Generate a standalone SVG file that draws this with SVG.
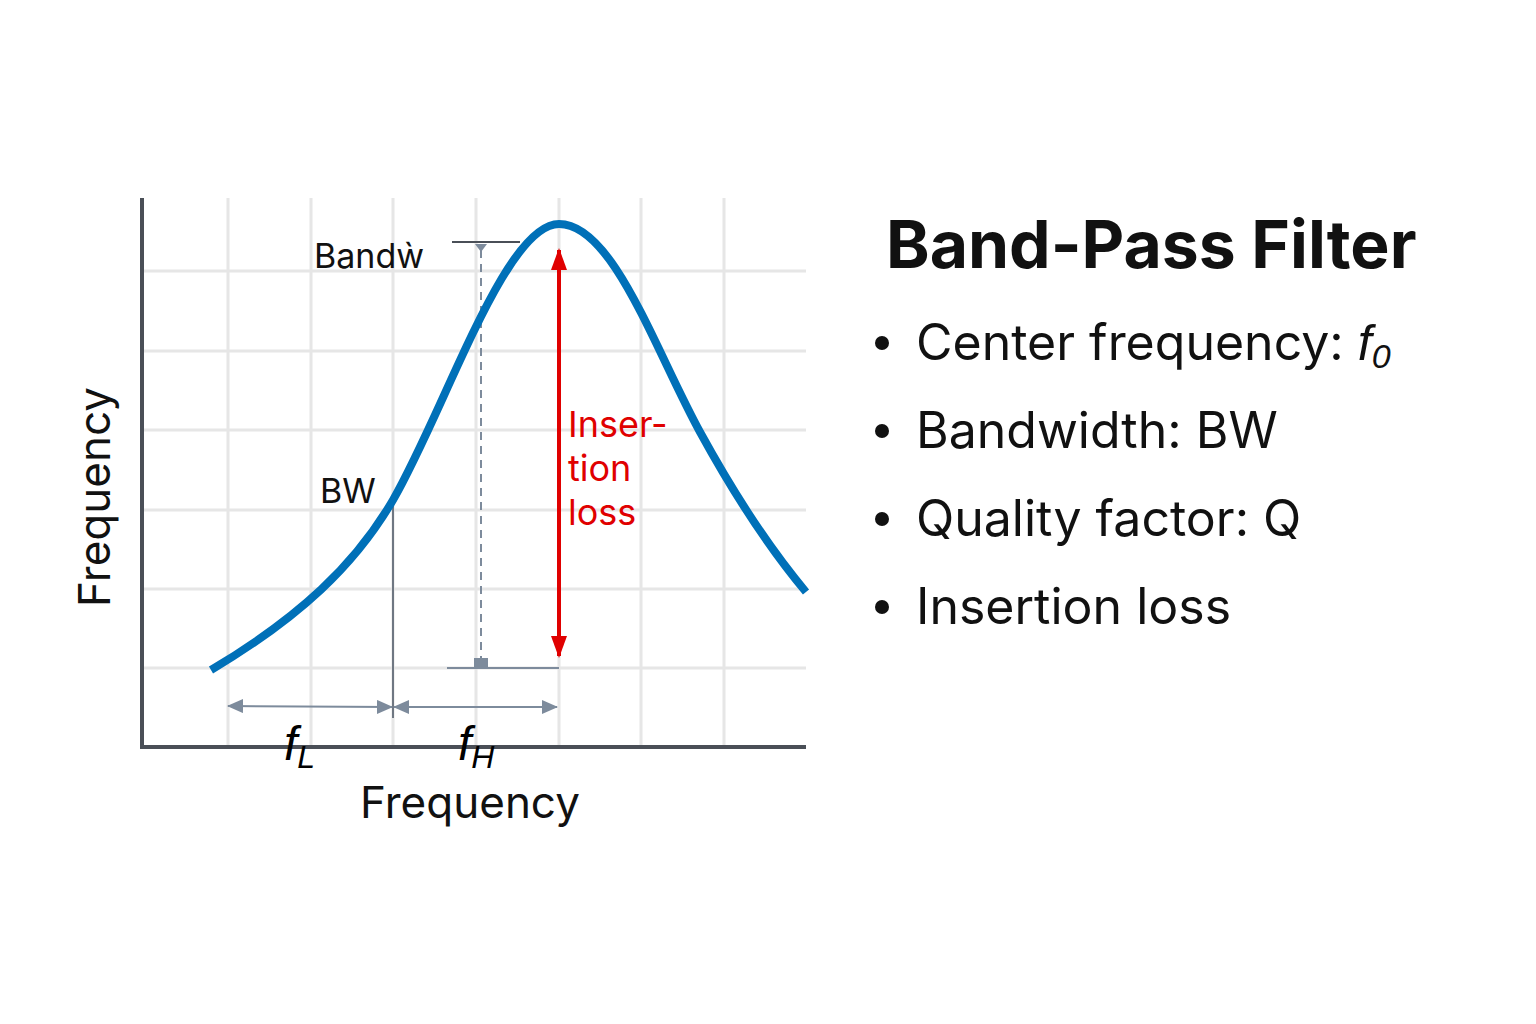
<svg xmlns="http://www.w3.org/2000/svg" width="1536" height="1024" viewBox="0 0 1536 1024">
<style>
.g{stroke:#e6e6e6;stroke-width:3}
.t{font-family:"Inter","Liberation Sans",sans-serif}
.dim{stroke:#7d8b9c;stroke-width:2;fill:none}
</style>
<defs>
<marker id="ga" markerWidth="16" markerHeight="14" refX="15" refY="7" orient="auto-start-reverse" markerUnits="userSpaceOnUse"><path d="M0,0L16,7L0,14z" fill="#7d8b9c"/></marker>
<marker id="ra" markerWidth="24" markerHeight="24" refX="20" refY="8" orient="auto-start-reverse" markerUnits="userSpaceOnUse"><path d="M0,0L22,8L0,16z" fill="#e00000"/></marker>
</defs>
<rect width="1536" height="1024" fill="#fff"/>
<g id="grid">
<line class="g" x1="228" y1="198" x2="228" y2="745"/><line class="g" x1="311" y1="198" x2="311" y2="745"/><line class="g" x1="393" y1="198" x2="393" y2="745"/><line class="g" x1="476" y1="198" x2="476" y2="745"/><line class="g" x1="559" y1="198" x2="559" y2="745"/><line class="g" x1="641" y1="198" x2="641" y2="745"/><line class="g" x1="724" y1="198" x2="724" y2="745"/>
<line class="g" x1="144" y1="271" x2="806" y2="271"/><line class="g" x1="144" y1="351" x2="806" y2="351"/><line class="g" x1="144" y1="430" x2="806" y2="430"/><line class="g" x1="144" y1="510" x2="806" y2="510"/><line class="g" x1="144" y1="589" x2="806" y2="589"/><line class="g" x1="144" y1="668" x2="806" y2="668"/>
</g>
<g id="axes"><path d="M142,198V747H806" fill="none" stroke="#4a4f57" stroke-width="4"/></g>
<g id="connectors">
<line x1="452" y1="242" x2="520" y2="242" stroke="#4a4f57" stroke-width="2"/>
<line x1="481" y1="250" x2="481" y2="662" stroke="#7d8b9c" stroke-width="2" stroke-dasharray="8,6"/>
<path d="M475,244h12l-6,8z" fill="#7d8b9c"/>
<rect x="474" y="658" width="14" height="10" fill="#7d8b9c"/>
<line x1="447" y1="668" x2="559" y2="668" stroke="#7d8b9c" stroke-width="2"/>
<line x1="393" y1="505" x2="393" y2="718" stroke="#6f7782" stroke-width="2"/>
<line class="dim" x1="228" y1="706" x2="392" y2="707" marker-start="url(#ga)" marker-end="url(#ga)"/>
<line class="dim" x1="394" y1="707" x2="557" y2="707" marker-start="url(#ga)" marker-end="url(#ga)"/>
<line x1="559" y1="250" x2="559" y2="656" stroke="#e00000" stroke-width="4" marker-start="url(#ra)" marker-end="url(#ra)"/>
</g>
<g id="curve"><path d="M211,670C300,617 355,565 393,500C445,410 505,224 559,224C613,224 655,350 700,432C740,505 775,555 806,592" fill="none" stroke="#0070b8" stroke-width="8"/></g>
<g id="labels" class="t">
<text x="314" y="268" font-size="34" fill="#111">Bandẁ</text>
<text x="320" y="503" font-size="34" fill="#111">BW</text>
<text x="568" y="437" font-size="36" fill="#e00000">Inser-</text>
<text x="568" y="481" font-size="36" fill="#e00000">tion</text>
<text x="568" y="525" font-size="36" fill="#e00000">loss</text>
<text x="284" y="760" font-size="48" font-style="italic" font-family="Liberation Sans,sans-serif">f<tspan font-size="32" dy="8">L</tspan></text>
<text x="458" y="760" font-size="48" font-style="italic" font-family="Liberation Sans,sans-serif">f<tspan font-size="32" dy="8">H</tspan></text>
<text x="470" y="818" font-size="44" text-anchor="middle" fill="#111">Frequency</text>
<text transform="translate(110,497) rotate(-90)" font-size="44" text-anchor="middle" fill="#111">Frequency</text>
</g>
<g id="legend" class="t" fill="#111">
<text x="886" y="268" font-size="66" font-weight="bold">Band-Pass Filter</text>
<circle cx="882" cy="343" r="7"/><text x="916" y="360" font-size="50">Center frequency: <tspan font-style="italic" font-family="Liberation Sans,sans-serif">f<tspan font-size="34" dy="8">0</tspan></tspan></text>
<circle cx="882" cy="431" r="7"/><text x="916" y="448" font-size="50">Bandwidth: BW</text>
<circle cx="882" cy="519" r="7"/><text x="916" y="536" font-size="50">Quality factor: Q</text>
<circle cx="882" cy="607" r="7"/><text x="916" y="624" font-size="50">Insertion loss</text>
</g>
</svg>
